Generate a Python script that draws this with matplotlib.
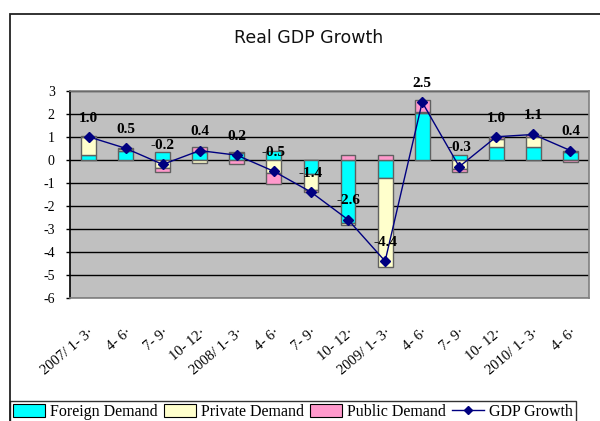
import matplotlib
matplotlib.use("Agg")
import matplotlib.pyplot as plt
import numpy as np
from matplotlib.patches import Rectangle, Patch
from matplotlib.lines import Line2D

categories = ["2007/ 1- 3·", "4- 6·", "7- 9·", "10- 12·",
              "2008/ 1- 3·", "4- 6·", "7- 9·", "10- 12·",
              "2009/ 1- 3·", "4- 6·", "7- 9·", "10- 12·",
              "2010/ 1- 3·", "4- 6·"]
foreign = [0.2, 0.4, 0.35, 0.33, 0.3, 0.38, -0.6, -2.75, -0.8, 2.05, 0.22, 0.55, 0.57, 0.32]
private = [0.8, 0.05, -0.35, -0.15, 0.06, -0.57, -0.7, -0.1, -3.85, 0.03, -0.4, 0.35, 0.4, 0.07]
public = [0.02, 0.05, -0.2, 0.24, -0.18, -0.46, -0.08, 0.2, 0.2, 0.5, -0.13, 0.1, 0.1, -0.09]
gdp = [1.0, 0.5, -0.2, 0.4, 0.2, -0.5, -1.4, -2.6, -4.4, 2.5, -0.3, 1.0, 1.1, 0.4]

serif = "Liberation Serif"

fig = plt.figure(figsize=(6.0, 4.21), dpi=100)
W, H = 600, 421

# outer chart border
fig.patches.append(Rectangle((10 / W, -0.05), 1.0, (421 - 14) / H + 0.05,
                             transform=fig.transFigure, fill=False,
                             edgecolor="#222222", linewidth=1.3))

ax = fig.add_axes([70 / W, (H - 298) / H, (589 - 70) / W, (298 - 90.7) / H])
ax.set_facecolor("#C0C0C0")

x = np.arange(len(categories))
width = 0.4
series = [(foreign, "#00FFFF", "Foreign Demand"),
          (private, "#FFFFCC", "Private Demand"),
          (public, "#FF99CC", "Public Demand")]
pos_base = np.zeros(len(x))
neg_base = np.zeros(len(x))
for vals, col, lab in series:
    v = np.array(vals)
    bottoms = np.where(v >= 0, pos_base, neg_base)
    ax.bar(x, v, width, bottom=bottoms, color=col, edgecolor="#606060",
           linewidth=1.0, zorder=3)
    pos_base = pos_base + np.where(v >= 0, v, 0)
    neg_base = neg_base + np.where(v < 0, v, 0)

ax.plot(x, gdp, color="#000080", linewidth=1.0, marker="D", markersize=5,
        zorder=5)
for xi, g in zip(x, gdp):
    ax.annotate(f"{g:.1f}", (xi, g), xytext=(0, 13.5), textcoords="offset points",
                ha="center", va="center", fontsize=11, fontweight="bold",
                family=serif, zorder=6)

ax.set_xlim(-0.5, len(x) - 0.5)
ax.set_ylim(-6, 3)
ax.set_yticks(range(-6, 4))
ax.set_yticklabels([str(t) for t in range(-6, 4)], family=serif, fontsize=10)
ax.yaxis.grid(True, color="black", linewidth=1.0, zorder=1)
ax.set_axisbelow(True)
ax.set_xticks(x)
ax.set_xticklabels(categories, family=serif, fontsize=10.5, rotation=40,
                   ha="right", va="top", rotation_mode="anchor")
ax.tick_params(axis="x", length=0, pad=20)
ax.tick_params(axis="y", length=3, width=1, color="black", pad=8)
for s in ax.spines.values():
    s.set_color("#808080")
    s.set_linewidth(1.2)
ax.spines["left"].set_color("black")

fig.text(309 / W, (H - 38) / H, "Real GDP Growth", ha="center", va="center",
         fontsize=12.5, family="DejaVu Sans", color="#111111")

handles = [Patch(facecolor=c, edgecolor="black", linewidth=0.8, label=l)
           for _, c, l in series]
handles.append(Line2D([0], [0], color="#000080", marker="D", markersize=4,
                      linewidth=1.0, label="GDP Growth"))
leg = fig.legend(handles=handles, loc="center", bbox_to_anchor=(293 / W, (H - 412) / H),
                 ncol=4, frameon=True, fancybox=False, prop={"family": serif, "size": 11.5},
                 handlelength=2.0, handleheight=0.8, handletextpad=0.3,
                 columnspacing=0.4, borderpad=0.2, borderaxespad=0)
leg.get_frame().set_edgecolor("black")
leg.get_frame().set_linewidth(1.0)

fig.savefig("out.png", dpi=100)
